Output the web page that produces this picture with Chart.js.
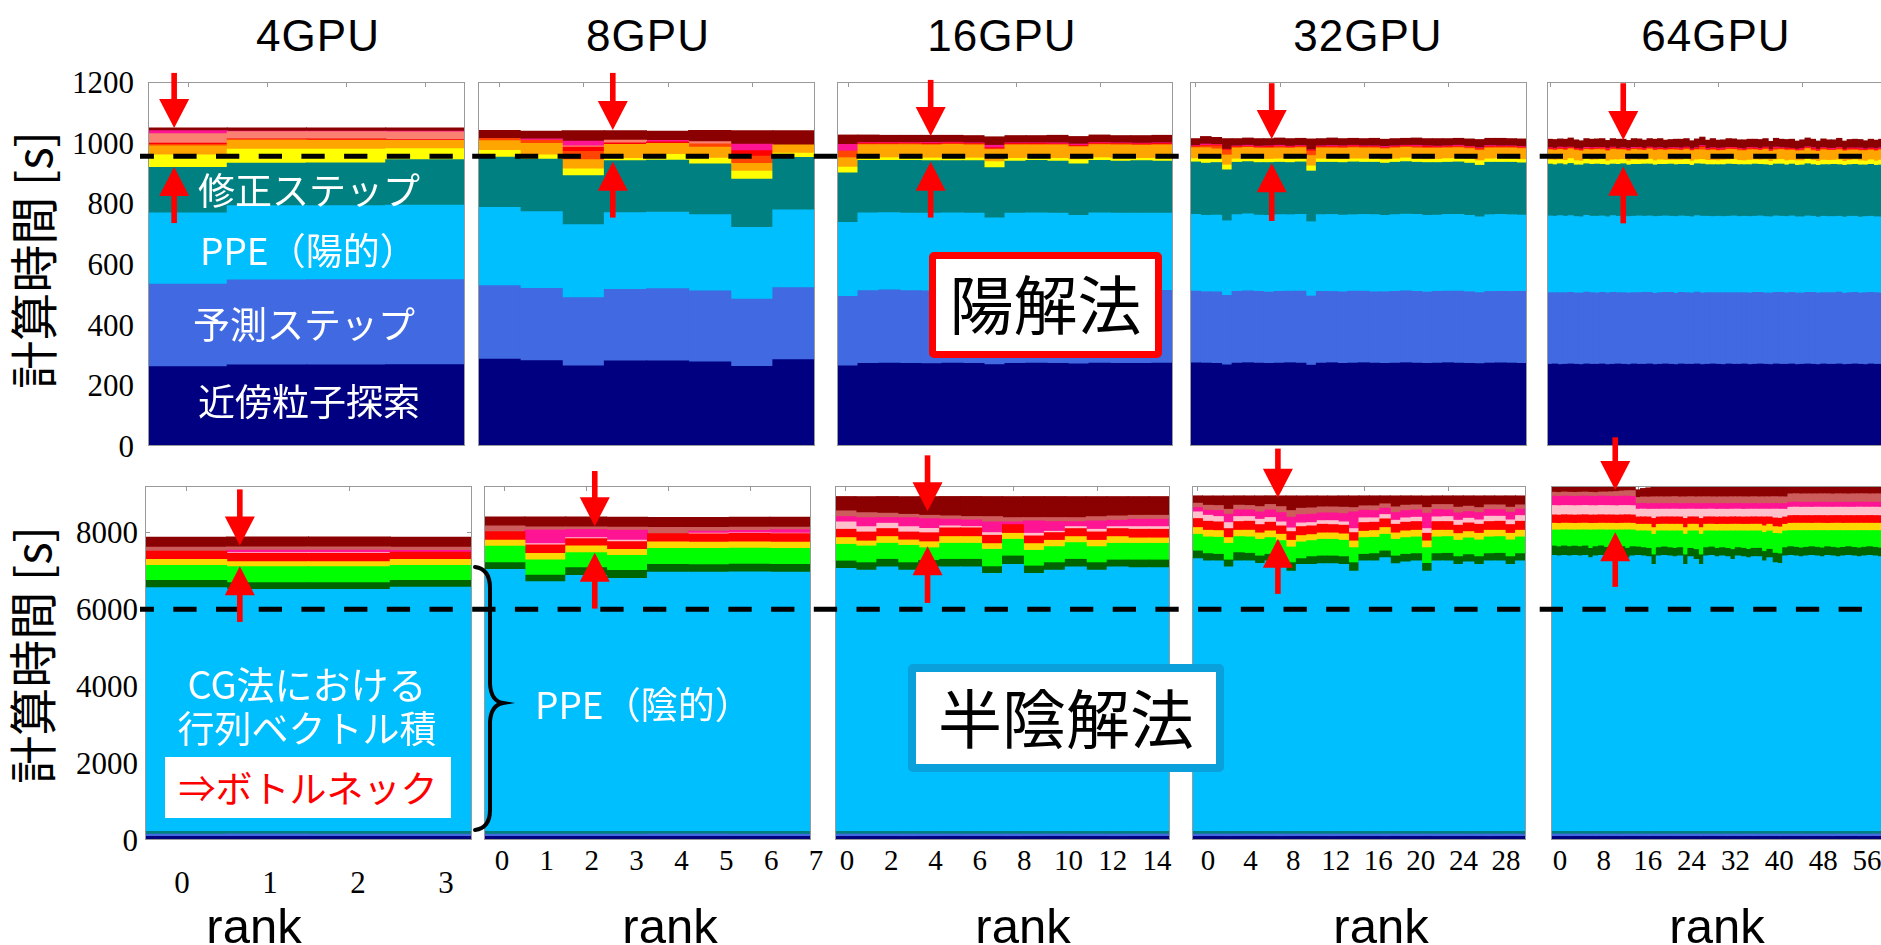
<!DOCTYPE html>
<html lang="ja">
<head>
<meta charset="utf-8">
<title>計算時間の内訳（rank別）</title>
<script src="https://cdn.jsdelivr.net/npm/chart.js@4.4.1/dist/chart.umd.min.js"></script>
<style>
  html, body { margin: 0; padding: 0; background: #fff; }
  #stage { position: relative; width: 1881px; height: 945px; overflow: hidden; background: #fff; }
  .t { position: absolute; white-space: nowrap; line-height: 1; }
  .ja { font-family: "Noto Sans CJK JP", "Noto Sans", sans-serif; }
  .serif { font-family: "Liberation Serif", "Times New Roman", "DejaVu Serif", serif; color: #000; }
  .sans { font-family: "Liberation Sans", Arial, sans-serif; color: #000; }
  .box { position: absolute; box-sizing: border-box; background: #fff; display: flex; align-items: center; justify-content: center; }
</style>
</head>
<body>
<div id="stage"></div>
<script>
// ---------------- data ----------------
const GPU_LABELS = ['4GPU', '8GPU', '16GPU', '32GPU', '64GPU'];
const X_TICKS = [
  [0, 1, 2, 3],
  [0, 1, 2, 3, 4, 5, 6, 7],
  [0, 2, 4, 6, 8, 10, 12, 14],
  [0, 4, 8, 12, 16, 20, 24, 28],
  [0, 8, 16, 24, 32, 40, 48, 56]
];
const Y_TICKS_EXP = [0, 200, 400, 600, 800, 1000, 1200];
const Y_TICKS_IMP = [0, 2000, 4000, 6000, 8000];
const EXP_LIMIT = 955;    // dashed reference level, explicit method [s]
const IMP_LIMIT = 6000;   // dashed reference level, semi-implicit method [s]

// explicit method: stacked components, bottom to top
const EXP_SERIES = ['近傍粒子探索', '予測ステップ', 'PPE（陽的）', '修正ステップ',
  'その他1', 'その他2', 'その他3', 'その他4', 'その他5', 'その他6', 'その他7'];
const EXP_COLORS = ['#000080', '#4169E1', '#00BFFF', '#008080', '#FFFF00', '#FFA500',
  '#FF4500', '#FF0000', '#FA8072', '#FF1493', '#8B0000'];

const EXP_4 = [
  [261, 267, 267, 268],
  [272, 280, 281, 280],
  [235, 245, 244, 246],
  [150, 140, 141, 150],
  [41, 46, 45, 36],
  [30, 31, 30, 27],
  [5, 0, 0, 0],
  [4, 3, 4, 3],
  [31, 24, 24, 25],
  [10, 2, 2, 3],
  [9, 10, 10, 10]
];
const EXP_8 = [
  [286, 281, 264, 280, 280, 277, 262, 284],
  [242, 238, 225, 236, 238, 234, 222, 238],
  [258, 253, 240, 253, 253, 251, 236, 256],
  [166, 173, 162, 171, 171, 168, 159, 173],
  [22, 14, 22, 8, 19, 19, 27, 14],
  [32, 38, 31, 46, 36, 36, 25, 27],
  [8, 11, 27, 0, 0, 11, 24, 0],
  [0, 0, 14, 5, 5, 0, 18, 0],
  [0, 0, 4, 9, 0, 7, 0, 0],
  [0, 4, 16, 0, 5, 0, 22, 0],
  [26, 26, 34, 31, 31, 37, 44, 47]
];
const EXP_16 = [
  [264, 272, 273, 272, 271, 273, 272, 268, 272, 273, 272, 270, 273, 272, 272, 273],
  [229, 240, 241, 240, 240, 241, 240, 236, 241, 240, 240, 238, 240, 241, 240, 240],
  [244, 256, 255, 255, 256, 254, 255, 248, 254, 255, 255, 252, 255, 254, 255, 254],
  [163, 173, 172, 174, 173, 172, 173, 165, 172, 173, 172, 170, 173, 172, 173, 172],
  [19, 8, 9, 8, 9, 10, 9, 20, 9, 8, 9, 14, 9, 9, 8, 9],
  [31, 44, 43, 44, 43, 44, 43, 40, 44, 43, 44, 42, 43, 44, 43, 44],
  [22, 2, 2, 3, 2, 2, 3, 3, 2, 2, 2, 2, 2, 3, 2, 2],
  [0, 3, 3, 2, 3, 3, 2, 3, 3, 3, 2, 3, 3, 2, 3, 3],
  [],
  [22, 2, 2, 2, 3, 2, 2, 8, 2, 2, 3, 4, 2, 2, 2, 2],
  [31, 25, 24, 24, 24, 23, 24, 28, 24, 24, 25, 25, 25, 24, 25, 25]
];
const EXP_32 = [
  [274, 273, 272, 267, 273, 274, 273, 272, 273, 274, 273, 266, 273, 274, 272, 273,
   274, 273, 272, 273, 274, 273, 272, 273, 274, 273, 272, 271, 273, 274, 273, 272],
  [236, 235, 236, 229, 236, 237, 236, 235, 236, 236, 237, 228, 236, 235, 236, 237,
   236, 235, 236, 236, 237, 236, 235, 236, 236, 237, 236, 234, 236, 235, 236, 237],
  [253, 252, 253, 246, 253, 254, 252, 253, 253, 252, 253, 245, 253, 254, 253, 252,
   253, 254, 252, 253, 253, 254, 253, 252, 253, 253, 252, 250, 253, 254, 253, 252],
  [173, 172, 173, 168, 173, 172, 173, 174, 173, 172, 173, 167, 173, 172, 173, 174,
   172, 173, 172, 173, 173, 172, 174, 173, 172, 173, 172, 170, 173, 172, 173, 172],
  [11, 18, 12, 16, 11, 10, 12, 11, 11, 12, 11, 17, 11, 12, 11, 10,
   11, 12, 11, 11, 12, 11, 10, 11, 12, 11, 13, 15, 11, 12, 11, 11],
  [36, 33, 33, 33, 36, 37, 35, 36, 36, 35, 36, 34, 36, 35, 36, 37,
   36, 35, 36, 36, 35, 36, 37, 36, 35, 36, 35, 34, 36, 35, 36, 36],
  [3, 6, 10, 16, 3, 2, 3, 3, 4, 3, 3, 15, 3, 3, 4, 3,
   3, 3, 3, 3, 3, 4, 3, 3, 3, 3, 3, 5, 3, 3, 3, 3],
  [2, 2, 3, 2, 2, 2, 2, 3, 2, 2, 2, 3, 2, 2, 2, 3,
   2, 2, 2, 2, 2, 2, 3, 2, 2, 2, 2, 2, 2, 2, 2, 2],
  [],
  [2, 4, 2, 1, 2, 3, 2, 2, 3, 2, 2, 1, 2, 3, 2, 2,
   2, 2, 3, 2, 2, 3, 2, 2, 2, 3, 2, 2, 3, 2, 2, 2],
  [23, 25, 23, 35, 24, 24, 25, 24, 24, 25, 24, 36, 24, 25, 24, 23,
   24, 25, 24, 24, 23, 24, 24, 25, 24, 23, 25, 27, 24, 25, 24, 25]
];
const EXP_64 = [
  [269, 270, 268, 269, 270, 269, 268, 270, 269, 269, 270, 268, 269, 270, 269, 268,
   270, 269, 269, 270, 268, 269, 270, 269, 268, 270, 269, 269, 270, 268, 269, 270,
   269, 268, 270, 269, 269, 270, 268, 269, 270, 269, 268, 270, 269, 269, 270, 268,
   269, 270, 269, 268, 270, 269, 269, 270, 268, 269, 270, 269, 268, 270, 269, 269],
  [236, 235, 237, 236, 236, 235, 236, 237, 236, 235, 236, 236, 237, 235, 236, 236,
   235, 236, 237, 236, 235, 236, 236, 237, 235, 236, 236, 235, 237, 236, 236, 235,
   236, 237, 235, 236, 236, 235, 236, 237, 236, 235, 236, 236, 237, 235, 236, 236,
   235, 236, 237, 236, 235, 236, 236, 237, 235, 236, 236, 235, 237, 236, 236, 235],
  [253, 252, 254, 252, 253, 252, 251, 253, 252, 253, 252, 251, 253, 252, 253, 252,
   252, 253, 251, 252, 253, 252, 252, 251, 253, 252, 252, 251, 252, 253, 252, 251,
   252, 251, 252, 253, 251, 252, 252, 251, 252, 252, 251, 252, 251, 252, 252, 251,
   251, 252, 251, 250, 252, 251, 251, 250, 251, 252, 251, 250, 251, 251, 250, 251],
  [171, 170, 171, 170, 172, 170, 171, 170, 171, 172, 170, 171, 170, 171, 172, 170,
   171, 170, 172, 171, 170, 171, 170, 172, 171, 170, 171, 170, 171, 172, 170, 171,
   170, 171, 172, 170, 171, 170, 171, 172, 170, 171, 170, 171, 172, 170, 171, 170,
   171, 172, 170, 171, 170, 171, 172, 170, 171, 170, 171, 172, 170, 171, 170, 171],
  [14, 15, 13, 14, 16, 14, 13, 15, 14, 14, 16, 13, 14, 15, 14, 13,
   15, 14, 13, 16, 14, 15, 14, 13, 15, 14, 16, 14, 13, 15, 14, 14,
   13, 15, 14, 16, 14, 13, 15, 14, 14, 16, 13, 14, 15, 14, 13, 15,
   14, 16, 14, 13, 15, 14, 14, 16, 13, 14, 15, 14, 13, 15, 14, 16],
  [33, 32, 34, 33, 32, 34, 33, 32, 33, 34, 32, 33, 34, 33, 32, 33,
   34, 33, 32, 33, 34, 33, 32, 34, 33, 32, 33, 34, 33, 32, 33, 34,
   33, 32, 34, 33, 32, 33, 34, 33, 32, 34, 33, 32, 33, 34, 33, 32,
   33, 34, 32, 33, 34, 33, 32, 33, 34, 33, 32, 33, 34, 32, 33, 34],
  [2, 3, 2, 4, 2, 3, 2, 2, 3, 2, 4, 2, 3, 2, 2, 3,
   2, 4, 2, 3, 2, 2, 3, 2, 4, 2, 3, 2, 2, 8, 2, 3,
   2, 2, 3, 2, 4, 2, 3, 2, 2, 3, 2, 4, 2, 3, 2, 2,
   3, 2, 4, 2, 3, 2, 2, 3, 2, 4, 2, 3, 2, 2, 3, 2],
  [3, 2, 3, 3, 2, 3, 3, 2, 3, 3, 2, 3, 3, 2, 3, 3,
   2, 3, 3, 2, 3, 3, 2, 3, 2, 3, 3, 2, 3, 3, 2, 3,
   3, 3, 2, 3, 2, 3, 3, 2, 3, 3, 2, 3, 2, 3, 3, 2,
   3, 2, 3, 3, 2, 3, 2, 3, 3, 2, 3, 3, 2, 3, 3, 2],
  [],
  [2, 2, 3, 2, 2, 1, 2, 3, 2, 2, 2, 3, 2, 1, 2, 2,
   3, 2, 2, 2, 3, 2, 1, 2, 2, 3, 2, 2, 2, 3, 2, 2,
   2, 3, 2, 2, 2, 1, 2, 3, 2, 2, 2, 3, 2, 2, 1, 2,
   2, 2, 3, 2, 2, 2, 3, 2, 1, 2, 2, 3, 2, 2, 2, 3],
  [28, 29, 27, 28, 30, 28, 27, 29, 28, 28, 29, 27, 28, 30, 28, 27,
   29, 28, 27, 28, 29, 30, 28, 27, 28, 29, 28, 27, 29, 28, 28, 30,
   28, 27, 29, 28, 28, 30, 27, 28, 29, 28, 27, 29, 28, 28, 30, 27,
   28, 29, 28, 27, 29, 28, 28, 30, 27, 28, 29, 28, 27, 29, 28, 28]
];

// semi-implicit method: stacked components, bottom to top
const IMP_SERIES = ['近傍粒子探索', '予測ステップ', '修正ステップ', 'PPE（陰的）',
  'その他1', 'その他2', 'その他3', 'その他4', 'その他5', 'その他6', 'その他7', 'その他8'];
const IMP_COLORS = ['#000080', '#4169E1', '#008080', '#00BFFF', '#006400', '#00FF00',
  '#FFD700', '#FF0000', '#FFC0CB', '#FF1493', '#CD5C5C', '#8B0000'];

const IMP_4 = [
  [90, 91, 90, 90],
  [62, 62, 61, 62],
  [68, 69, 70, 68],
  [6333, 6287, 6290, 6350],
  [191, 174, 174, 174],
  [390, 417, 415, 390],
  [156, 130, 132, 156],
  [217, 217, 215, 191],
  [0, 20, 20, 0],
  [0, 61, 60, 43],
  [104, 87, 88, 87],
  [260, 260, 260, 260]
];
const IMP_8 = [
  [90, 89, 91, 90, 90, 91, 89, 90],
  [62, 62, 61, 62, 63, 62, 62, 61],
  [68, 69, 68, 68, 67, 68, 69, 69],
  [6809, 6489, 6653, 6575, 6740, 6735, 6745, 6738],
  [174, 174, 200, 208, 200, 200, 200, 200],
  [434, 391, 391, 391, 417, 417, 417, 417],
  [156, 174, 174, 156, 165, 165, 165, 165],
  [217, 217, 191, 200, 217, 217, 217, 217],
  [0, 35, 26, 43, 0, 17, 17, 17],
  [0, 356, 217, 260, 0, 52, 61, 87],
  [148, 78, 61, 78, 165, 100, 87, 70],
  [234, 260, 260, 260, 260, 260, 260, 260]
];
const IMP_16 = [
  [90, 91, 90, 89, 90, 91, 90, 90, 89, 90, 91, 90, 90, 89, 90, 91],
  [62, 61, 62, 63, 62, 62, 61, 62, 63, 62, 62, 61, 62, 62, 63, 62],
  [68, 68, 68, 68, 68, 67, 69, 68, 68, 68, 67, 69, 68, 69, 67, 67],
  [6837, 6793, 6872, 6793, 6872, 6872, 6872, 6707, 6941, 6707, 6793, 6872, 6793, 6872, 6854, 6854],
  [191, 191, 200, 191, 170, 200, 200, 174, 217, 191, 191, 200, 191, 182, 200, 200],
  [434, 434, 417, 451, 330, 417, 417, 451, 434, 408, 417, 434, 417, 434, 434, 434],
  [174, 130, 174, 139, 156, 174, 174, 148, 156, 174, 165, 156, 165, 174, 139, 139],
  [217, 234, 208, 208, 234, 226, 226, 217, 226, 200, 200, 208, 217, 208, 226, 226],
  [191, 139, 139, 139, 113, 52, 35, 69, 0, 69, 35, 52, 69, 52, 69, 69],
  [139, 234, 148, 234, 255, 174, 174, 278, 69, 321, 252, 130, 217, 165, 191, 191],
  [148, 130, 113, 87, 87, 87, 87, 139, 113, 87, 104, 104, 113, 113, 104, 104],
  [373, 417, 434, 460, 486, 503, 521, 521, 547, 547, 547, 547, 521, 503, 486, 486]
];
const IMP_32 = [
  [90, 91, 90, 89, 90, 91, 90, 90, 89, 90, 91, 90, 90, 89, 90, 91,
   90, 90, 89, 91, 90, 90, 91, 89, 90, 90, 91, 90, 89, 90, 91, 90],
  [62, 61, 62, 63, 62, 62, 61, 62, 63, 62, 62, 61, 62, 62, 63, 62,
   61, 62, 63, 62, 62, 61, 62, 63, 62, 62, 61, 62, 63, 62, 62, 61],
  [68, 68, 68, 68, 68, 67, 69, 68, 68, 68, 67, 69, 68, 69, 67, 67,
   69, 68, 68, 67, 68, 69, 67, 68, 68, 68, 68, 68, 68, 68, 67, 69],
  [7089, 7028, 7028, 6872, 7028, 7028, 6967, 7028, 6967, 6767, 6941, 6941, 6958, 6958, 6941, 6767,
   7028, 7028, 7115, 6958, 7002, 7028, 6767, 7028, 7028, 6941, 7002, 6941, 7028, 7028, 6941, 7028],
  [200, 191, 174, 182, 217, 200, 191, 174, 191, 217, 148, 200, 200, 200, 200, 217,
   174, 191, 174, 200, 200, 191, 200, 191, 200, 200, 191, 200, 191, 200, 200, 191],
  [434, 434, 443, 434, 417, 426, 434, 434, 400, 408, 434, 417, 434, 434, 426, 391,
   434, 426, 434, 434, 434, 434, 408, 434, 434, 426, 434, 434, 434, 434, 434, 434],
  [174, 174, 174, 148, 165, 174, 165, 174, 165, 174, 165, 156, 165, 165, 165, 174,
   165, 174, 174, 165, 174, 174, 174, 174, 165, 174, 165, 174, 174, 165, 174, 174],
  [234, 234, 226, 234, 226, 234, 217, 226, 217, 226, 234, 226, 226, 217, 226, 217,
   226, 217, 226, 226, 226, 226, 200, 226, 226, 217, 226, 234, 226, 234, 226, 234],
  [174, 156, 139, 156, 130, 122, 139, 122, 104, 95, 95, 87, 95, 104, 87, 104,
   122, 113, 113, 104, 113, 113, 122, 122, 130, 130, 122, 113, 139, 130, 122, 148],
  [113, 130, 156, 217, 174, 174, 191, 200, 243, 278, 217, 217, 200, 200, 217, 434,
   200, 191, 165, 200, 191, 191, 400, 191, 174, 191, 174, 191, 174, 174, 200, 165],
  [113, 130, 130, 130, 122, 113, 139, 139, 156, 174, 165, 165, 156, 156, 165, 113,
   113, 122, 113, 148, 139, 130, 148, 130, 139, 148, 139, 130, 122, 122, 130, 113],
  [191, 243, 250, 347, 243, 250, 278, 226, 278, 382, 321, 312, 286, 286, 295, 304,
   260, 260, 208, 286, 243, 234, 300, 226, 226, 295, 269, 304, 234, 234, 295, 234]
];
const IMP_64 = [
  [90, 91, 90, 89, 90, 91, 90, 90, 89, 90, 91, 90, 90, 89, 90, 91,
   90, 90, 89, 91, 90, 90, 91, 89, 90, 90, 91, 90, 89, 90, 91, 90,
   90, 89, 91, 90, 90, 91, 89, 90, 90, 91, 90, 89, 90, 91, 90, 90,
   89, 90, 91, 90, 90, 89, 91, 90, 90, 91, 89, 90, 90, 91, 90, 89],
  [62, 61, 62, 63, 62, 62, 61, 62, 63, 62, 62, 61, 62, 62, 63, 62,
   61, 62, 63, 62, 62, 61, 62, 63, 62, 62, 61, 62, 63, 62, 62, 61,
   62, 63, 62, 61, 62, 62, 63, 62, 61, 62, 63, 62, 62, 61, 62, 63,
   62, 62, 61, 62, 63, 62, 62, 61, 62, 63, 62, 62, 61, 62, 62, 63],
  [68, 68, 68, 68, 68, 67, 69, 68, 68, 68, 67, 69, 68, 69, 67, 67,
   69, 68, 68, 67, 68, 69, 67, 68, 68, 68, 68, 68, 68, 68, 67, 69,
   68, 68, 67, 69, 68, 67, 68, 68, 69, 67, 67, 69, 68, 68, 68, 67,
   69, 68, 68, 68, 67, 69, 67, 69, 68, 66, 69, 68, 69, 67, 68, 68],
  [7175, 7158, 7175, 7158, 7175, 7158, 7175, 7115, 7158, 7175, 7141, 7158, 7201, 7158, 7115, 7158,
   7175, 7158, 7141, 6941, 7158, 7175, 7158, 7141, 7158, 6941, 7141, 7071, 6941, 7158, 7175, 7141,
   7158, 7141, 7071, 7158, 7141, 7115, 7141, 7141, 7028, 7115, 6984, 6967, 7158, 7175, 7158, 7141,
   7158, 7175, 7158, 7141, 7175, 7158, 7141, 7158, 7175, 7158, 7141, 7158, 7175, 7158, 7141, 7158],
  [243, 240, 245, 243, 241, 243, 244, 240, 243, 245, 242, 243, 241, 243, 244, 242,
   217, 218, 216, 247, 217, 219, 216, 217, 218, 247, 216, 254, 247, 217, 218, 216,
   217, 216, 254, 218, 217, 216, 217, 218, 247, 217, 247, 247, 216, 226, 227, 225,
   226, 225, 227, 226, 224, 226, 227, 225, 226, 224, 226, 227, 225, 226, 227, 225],
  [417, 434, 417, 434, 417, 434, 417, 477, 434, 417, 451, 434, 391, 434, 477, 434,
   417, 434, 451, 534, 434, 417, 434, 451, 434, 534, 451, 484, 534, 434, 417, 451,
   434, 451, 484, 434, 451, 477, 451, 451, 494, 477, 514, 524, 434, 417, 434, 451,
   434, 417, 434, 451, 417, 434, 451, 434, 417, 434, 451, 434, 417, 434, 451, 434],
  [174, 172, 175, 174, 173, 174, 176, 174, 172, 174, 175, 174, 173, 174, 176, 174,
   174, 173, 175, 174, 172, 174, 175, 174, 173, 174, 176, 174, 173, 174, 175, 172,
   174, 173, 175, 174, 172, 174, 175, 174, 173, 174, 176, 174, 173, 190, 191, 192,
   191, 190, 192, 191, 189, 191, 192, 190, 191, 193, 191, 190, 192, 191, 189, 191],
  [217, 216, 218, 217, 215, 217, 218, 216, 217, 218, 216, 217, 215, 217, 218, 216,
   191, 192, 190, 238, 191, 190, 192, 191, 190, 238, 191, 191, 238, 192, 190, 191,
   191, 190, 192, 191, 190, 191, 192, 190, 231, 191, 225, 227, 191, 200, 201, 199,
   200, 201, 199, 200, 202, 200, 199, 201, 200, 199, 201, 200, 202, 200, 199, 201],
  [243, 245, 241, 243, 244, 242, 243, 245, 241, 243, 244, 242, 243, 245, 241, 243,
   200, 202, 199, 240, 201, 200, 199, 202, 200, 240, 201, 200, 240, 199, 202, 200,
   200, 201, 199, 202, 200, 201, 199, 200, 202, 200, 230, 235, 201, 217, 218, 216,
   217, 216, 218, 217, 219, 216, 217, 218, 216, 217, 219, 217, 216, 218, 217, 216],
  [243, 240, 245, 243, 241, 244, 242, 243, 240, 245, 243, 241, 244, 242, 243, 240,
   148, 150, 146, 148, 149, 147, 148, 150, 146, 148, 149, 147, 148, 150, 146, 148,
   148, 147, 149, 148, 150, 146, 148, 147, 149, 148, 150, 146, 148, 130, 132, 129,
   130, 131, 129, 132, 130, 128, 131, 130, 129, 132, 130, 131, 129, 130, 132, 130],
  [104, 104, 106, 103, 105, 104, 106, 104, 103, 105, 110, 118, 126, 134, 142, 150,
   158, 166, 172, 174, 175, 173, 174, 176, 174, 173, 175, 174, 176, 174, 173, 175,
   174, 176, 174, 173, 175, 174, 176, 174, 173, 175, 174, 176, 174, 217, 216, 218,
   217, 218, 216, 217, 219, 216, 218, 217, 216, 218, 217, 219, 216, 217, 218, 216],
  [139, 138, 140, 139, 137, 139, 140, 138, 139, 140, 138, 139, 140, 139, 138, 140,
   200, 220, 240, 255, 260, 262, 260, 258, 262, 260, 258, 262, 260, 261, 259, 260,
   262, 260, 258, 262, 260, 258, 261, 260, 259, 262, 260, 258, 250, 220, 190, 180,
   180, 182, 178, 180, 181, 179, 180, 182, 178, 180, 181, 179, 180, 182, 178, 180]
];

const EXP_PANELS = [EXP_4, EXP_8, EXP_16, EXP_32, EXP_64];
const IMP_PANELS = [IMP_4, IMP_8, IMP_16, IMP_32, IMP_64];

// arrow annotations: [rank position, shaft start, upper tip, lower tip, shaft end] in axis units
const EXP_ARROWS = [
  [-0.17, 1230, 1048, 920, 735],
  [2.7, 1230, 1042, 937, 753],
  [3.96, 1207, 1022, 937, 753],
  [7.26, 1196, 1012, 932, 742],
  [13.98, 1196, 1009, 921, 734]
];
const IMP_ARROWS = [
  [0.66, 9112, 7654, 7115, 5668],
  [2.21, 9589, 8157, 7464, 6014],
  [3.92, 9997, 8547, 7636, 6162],
  [7.73, 10172, 8896, 7829, 6397],
  [11.7, 10466, 9094, 8001, 6579]
];

// ---------------- layout ----------------
const EXP_BOXES = [[148, 82, 317, 364], [478, 82, 337, 364], [837, 82, 336, 364], [1190, 82, 337, 364], [1547, 82, 337, 364]];
const IMP_BOXES = [[145, 486, 327, 354], [484, 486, 327, 354], [835, 486, 335, 354], [1192, 486, 334, 354], [1551, 486, 337, 354]];
const EXP_MAX = 1200, IMP_MAX = 9200;
const EXP_MARK_STEP = [1, 2, 4, 8, 16];
const IMP_MARK_STEP = [2, 2, 4, 8, 16];
const TITLE_X = [318, 648, 1002, 1368, 1716];
const RANK_LABEL_X = [254, 670, 1023, 1381, 1717];
// horizontal extent of each row of rank tick labels (first label centre, last label centre)
const TICK_LABEL_SPAN = [[182, 446], [502, 816], [847, 1157], [1208, 1506], [1560, 1867]];

const stage = document.getElementById('stage');

const framePlugin = {
  id: 'frame',
  beforeDatasetsDraw(chart, args, opts) {
    const { ctx, chartArea: a, scales } = chart;
    ctx.save();
    ctx.strokeStyle = '#999';
    ctx.lineWidth = 1;
    ctx.beginPath();
    (opts.xMarks || []).forEach(v => {
      const x = Math.round(scales.x.getPixelForValue(v)) + 0.5;
      ctx.moveTo(x, a.top); ctx.lineTo(x, a.top + 5);
      ctx.moveTo(x, a.bottom); ctx.lineTo(x, a.bottom - 5);
    });
    (opts.yMarks || []).forEach(v => {
      const y = Math.round(scales.y.getPixelForValue(v)) + 0.5;
      ctx.moveTo(a.left, y); ctx.lineTo(a.left + 5, y);
      ctx.moveTo(a.right, y); ctx.lineTo(a.right - 5, y);
    });
    ctx.stroke();
    ctx.restore();
  },
  afterDraw(chart) {
    const { ctx, chartArea: a } = chart;
    ctx.save();
    ctx.strokeStyle = '#999';
    ctx.lineWidth = 1;
    ctx.strokeRect(a.left + 0.5, a.top + 0.5, a.right - a.left - 1, a.bottom - a.top - 1);
    ctx.restore();
  }
};

function makePanel(box, rows, names, colors, yMax, yTicks, markStep) {
  const [x, y, w, h] = box;
  const n = rows[0].length;
  const cv = document.createElement('canvas');
  cv.width = w; cv.height = h;
  cv.style.cssText = `position:absolute;left:${x}px;top:${y}px;width:${w}px;height:${h}px;z-index:1;`;
  stage.appendChild(cv);
  const labels = Array.from({ length: n }, (_, i) => String(i));
  const xMarks = [];
  for (let i = 0; i < n; i += markStep) xMarks.push(i);
  return new Chart(cv, {
    type: 'bar',
    data: {
      labels,
      datasets: rows.map((vals, i) => ({
        label: names[i],
        data: vals.map(v => (v ? v : null)),
        backgroundColor: colors[i],
        borderWidth: 0,
        categoryPercentage: 1,
        barPercentage: 1,
        inflateAmount: 0.5
      }))
    },
    options: {
      responsive: false,
      maintainAspectRatio: false,
      animation: false,
      devicePixelRatio: 1,
      layout: { padding: 0 },
      events: [],
      plugins: {
        legend: { display: false },
        tooltip: { enabled: false },
        frame: { xMarks, yMarks: yTicks }
      },
      scales: {
        x: { stacked: true, display: false },
        y: { stacked: true, display: false, min: 0, max: yMax }
      }
    },
    plugins: [framePlugin]
  });
}

const expCharts = EXP_PANELS.map((rows, i) =>
  makePanel(EXP_BOXES[i], rows, EXP_SERIES, EXP_COLORS, EXP_MAX, Y_TICKS_EXP, EXP_MARK_STEP[i]));
const impCharts = IMP_PANELS.map((rows, i) =>
  makePanel(IMP_BOXES[i], rows, IMP_SERIES, IMP_COLORS, IMP_MAX, Y_TICKS_IMP, IMP_MARK_STEP[i]));

// ---------------- text ----------------
function put(text, x, y, cls, css, align) {
  const d = document.createElement('div');
  d.className = 't ' + cls;
  d.textContent = text;
  d.style.cssText += `left:${x}px;top:${y}px;` + (css || '');
  const tx = align === 'l' ? '0' : align === 'r' ? '-100%' : '-50%';
  d.style.transform = `translate(${tx},-50%)`;
  d.style.zIndex = 3;
  stage.appendChild(d);
  return d;
}

// panel titles
GPU_LABELS.forEach((s, i) => put(s, TITLE_X[i], 36, 'sans', 'font-size:44px;letter-spacing:1px;'));

// y axis titles
[[31, 260], [30, 655]].forEach(([x, y]) => {
  const d = put('計算時間 [s]', x, y, 'ja', 'font-size:48px;color:#000;');
  d.style.transform = 'translate(-50%,-50%) rotate(-90deg)';
});

// y tick labels (first column only)
Y_TICKS_EXP.forEach(v => {
  const y = expCharts[0].scales.y.getPixelForValue(v) + EXP_BOXES[0][1];
  put(String(v), 134, y, 'serif', 'font-size:31px;', 'r');
});
Y_TICKS_IMP.forEach(v => {
  const y = impCharts[0].scales.y.getPixelForValue(v) + IMP_BOXES[0][1];
  put(String(v), 138, y, 'serif', 'font-size:31px;', 'r');
});

// rank tick labels and axis titles
X_TICKS.forEach((ticks, i) => {
  const [x0, x1] = TICK_LABEL_SPAN[i];
  const last = ticks[ticks.length - 1];
  const yy = i === 0 ? 882 : 860;
  const fs = i === 0 ? 31 : 29;
  ticks.forEach(t => put(String(t), x0 + (x1 - x0) * t / last, yy, 'serif', `font-size:${fs}px;`));
  put('rank', RANK_LABEL_X[i], 926, 'sans', 'font-size:49px;');
});

// component labels, explicit method
const W = 'font-size:37px;color:#fff;';
put('修正ステップ', 198, 189, 'ja', W, 'l');
put('PPE（陽的）', 200, 249, 'ja', W, 'l');
put('予測ステップ', 193, 323, 'ja', W, 'l');
put('近傍粒子探索', 198, 400, 'ja', W, 'l');

// component labels, semi-implicit method
put('CG法における', 307, 683, 'ja', 'font-size:38px;color:#fff;');
put('行列ベクトル積', 307, 727, 'ja', W);
put('PPE（陰的）', 535, 703, 'ja', W, 'l');

function addBox(x, y, w, h, border, inner) {
  const b = document.createElement('div');
  b.className = 'box';
  b.style.cssText += `left:${x}px;top:${y}px;width:${w}px;height:${h}px;z-index:2;` + border;
  b.innerHTML = inner;
  stage.appendChild(b);
  return b;
}
addBox(165, 757, 286, 61, '', '<span class="ja" style="font-size:37px;color:#f00;line-height:1;">⇒ボトルネック</span>');
addBox(929, 252, 233, 106, 'border:7px solid #f00;border-radius:5px;',
  '<span class="ja" style="font-size:64px;color:#000;line-height:1;margin-top:-8px;">陽解法</span>');
addBox(908, 664, 316, 108, 'border:8px solid #0AA0DC;border-radius:5px;',
  '<span class="ja" style="font-size:64px;color:#000;line-height:1;margin-top:-6px;">半陰解法</span>');

// ---------------- overlay: reference lines, arrows, brace ----------------
const ov = document.createElement('canvas');
ov.width = 1881; ov.height = 945;
ov.style.cssText = 'position:absolute;left:0;top:0;z-index:5;pointer-events:none;';
stage.appendChild(ov);
const g = ov.getContext('2d');

function dashed(yPix) {
  g.save();
  g.strokeStyle = '#000';
  g.lineWidth = 5;
  g.setLineDash([23.3, 19.4]);
  g.lineDashOffset = 9.4;
  g.beginPath();
  g.moveTo(140, yPix);
  g.lineTo(1881, yPix);
  g.stroke();
  g.restore();
}
dashed(expCharts[0].scales.y.getPixelForValue(EXP_LIMIT) + EXP_BOXES[0][1]);
dashed(impCharts[0].scales.y.getPixelForValue(IMP_LIMIT) + IMP_BOXES[0][1]);

const HW = 15, HH = 29, SW = 2.8;
function arrowPair(chart, box, a) {
  const px = chart.scales.x.getPixelForValue(a[0]) + box[0];
  const py = v => chart.scales.y.getPixelForValue(v) + box[1];
  const y0 = py(a[1]), tipDown = py(a[2]), tipUp = py(a[3]), y1 = py(a[4]);
  g.fillStyle = '#f00';
  // pointing down onto the top of the stack
  g.fillRect(px - SW, y0, 2 * SW, tipDown - HH - y0 + 1);
  g.beginPath();
  g.moveTo(px - HW, tipDown - HH); g.lineTo(px + HW, tipDown - HH); g.lineTo(px, tipDown);
  g.closePath(); g.fill();
  // pointing up from below
  g.fillRect(px - SW, tipUp + HH - 1, 2 * SW, y1 - tipUp - HH + 1);
  g.beginPath();
  g.moveTo(px - HW, tipUp + HH); g.lineTo(px + HW, tipUp + HH); g.lineTo(px, tipUp);
  g.closePath(); g.fill();
}
EXP_ARROWS.forEach((a, i) => arrowPair(expCharts[i], EXP_BOXES[i], a));
IMP_ARROWS.forEach((a, i) => arrowPair(impCharts[i], IMP_BOXES[i], a));

// curly brace spanning the implicit PPE block
g.save();
g.strokeStyle = '#000';
g.lineWidth = 4;
g.lineCap = 'round';
g.beginPath();
g.moveTo(475, 567);
g.quadraticCurveTo(490, 569, 490, 588);
g.lineTo(490, 684);
g.quadraticCurveTo(491, 701, 503, 703);
g.quadraticCurveTo(491, 705, 490, 722);
g.lineTo(490, 810);
g.quadraticCurveTo(490, 828, 475, 830);
g.stroke();
g.restore();
</script>
</body>
</html>
